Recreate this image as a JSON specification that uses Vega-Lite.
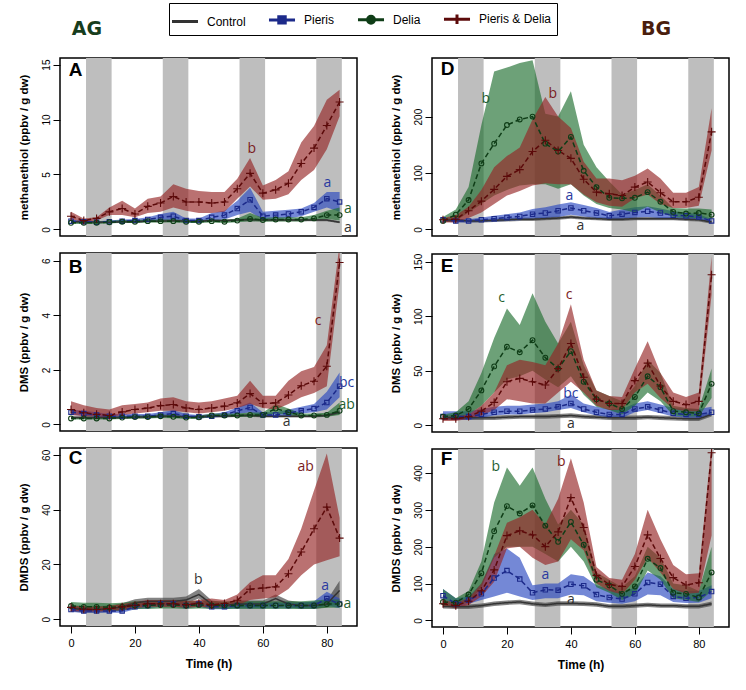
{
"$schema":"https://vega.github.io/schema/vega-lite/v6.json",
"padding":{"left":17,"top":2,"right":12,"bottom":2},
"background":"white",
"spacing":31,
"config":{
"view":{"stroke":"black","strokeWidth":1.5},
"axis":{"grid":false,"domain":false,"tickColor":"black","tickSize":7,"labelColor":"black","labelFont":"Liberation Sans","labelFontSize":10,"titleFont":"Liberation Sans","titleFontSize":11.5,"titleFontWeight":"bold","titleColor":"black"},
"axisY":{"labelAngle":-90,"labelPadding":2,"titlePadding":12},
"axisX":{"labelPadding":4,"labelFontSize":11,"titlePadding":10,"titleFontSize":12}
},
"datasets":{
"night":[{"t":4.7,"t2":12.7},{"t":28.7,"t2":36.7},{"t":52.7,"t2":60.7},{"t":76.7,"t2":84.7}],
"hd":[{"p":"A","t":5.0,"v":18.24,"txt":"AG"},{"p":"D","t":66.6,"v":355.5,"txt":"BG"}],
"pl":[{"p":"A","t":-0.7,"v":14.5},{"p":"B","t":-0.7,"v":5.78},{"p":"C","t":-0.7,"v":58.8},{"p":"D","t":-0.7,"v":285},{"p":"E","t":-0.7,"v":146},{"p":"F","t":-0.7,"v":438}],
"lab":[
{"p":"A","t":56.5,"v":7.3,"s":"X","txt":"b"},{"p":"A","t":80.2,"v":4.2,"s":"P","txt":"a"},{"p":"A","t":86.6,"v":1.9,"s":"D","txt":"a"},{"p":"A","t":86.6,"v":0.1,"s":"C","txt":"a"},
{"p":"B","t":77.3,"v":3.8,"s":"X","txt":"c"},{"p":"B","t":86.2,"v":1.52,"s":"P","txt":"bc"},{"p":"B","t":86.2,"v":0.72,"s":"D","txt":"ab"},{"p":"B","t":67.4,"v":0.1,"s":"C","txt":"a"},
{"p":"C","t":73.4,"v":55.5,"s":"X","txt":"ab"},{"p":"C","t":39.8,"v":14.2,"s":"C","txt":"b"},{"p":"C","t":79.5,"v":12,"s":"P","txt":"a"},{"p":"C","t":86.4,"v":5.5,"s":"D","txt":"a"},
{"p":"D","t":13.4,"v":232,"s":"D","txt":"b"},{"p":"D","t":34.3,"v":241,"s":"X","txt":"b"},{"p":"D","t":39.5,"v":60,"s":"P","txt":"a"},{"p":"D","t":43,"v":6,"s":"C","txt":"a"},
{"p":"E","t":18.3,"v":117,"s":"D","txt":"c"},{"p":"E","t":39.4,"v":119,"s":"X","txt":"c"},{"p":"E","t":40,"v":29,"s":"P","txt":"bc"},{"p":"E","t":40,"v":1,"s":"C","txt":"a"},
{"p":"F","t":16.5,"v":415,"s":"D","txt":"b"},{"p":"F","t":37,"v":429,"s":"X","txt":"b"},{"p":"F","t":32,"v":122,"s":"P","txt":"a"},{"p":"F","t":40,"v":54,"s":"C","txt":"a"}
],
"d":[
{"p":"A","s":"C","t":0,"m":0.7,"l":0.6,"h":0.8},{"p":"A","s":"C","t":4,"m":0.7,"l":0.6,"h":0.8},{"p":"A","s":"C","t":8,"m":0.65,"l":0.55,"h":0.75},{"p":"A","s":"C","t":12,"m":0.65,"l":0.55,"h":0.75},{"p":"A","s":"C","t":16,"m":0.7,"l":0.6,"h":0.8},{"p":"A","s":"C","t":20,"m":0.7,"l":0.6,"h":0.8},{"p":"A","s":"C","t":24,"m":0.75,"l":0.65,"h":0.85},{"p":"A","s":"C","t":28,"m":0.75,"l":0.65,"h":0.85},{"p":"A","s":"C","t":32,"m":0.8,"l":0.7,"h":0.9},{"p":"A","s":"C","t":36,"m":0.75,"l":0.65,"h":0.85},{"p":"A","s":"C","t":40,"m":0.75,"l":0.65,"h":0.85},{"p":"A","s":"C","t":44,"m":0.8,"l":0.7,"h":0.9},{"p":"A","s":"C","t":48,"m":0.8,"l":0.7,"h":0.9},{"p":"A","s":"C","t":52,"m":0.85,"l":0.75,"h":0.95},{"p":"A","s":"C","t":56,"m":0.9,"l":0.75,"h":1.05},{"p":"A","s":"C","t":60,"m":0.85,"l":0.75,"h":0.95},{"p":"A","s":"C","t":64,"m":0.85,"l":0.75,"h":0.95},{"p":"A","s":"C","t":68,"m":0.85,"l":0.75,"h":0.95},{"p":"A","s":"C","t":72,"m":0.85,"l":0.75,"h":0.95},{"p":"A","s":"C","t":76,"m":0.85,"l":0.75,"h":0.95},{"p":"A","s":"C","t":80,"m":0.85,"l":0.75,"h":0.95},{"p":"A","s":"C","t":84,"m":0.65,"l":0.55,"h":0.75},
{"p":"A","s":"P","t":0,"m":0.75,"l":0.6,"h":0.9},{"p":"A","s":"P","t":4,"m":0.7,"l":0.6,"h":0.8},{"p":"A","s":"P","t":8,"m":0.65,"l":0.55,"h":0.75},{"p":"A","s":"P","t":12,"m":0.7,"l":0.6,"h":0.8},{"p":"A","s":"P","t":16,"m":0.75,"l":0.65,"h":0.9},{"p":"A","s":"P","t":20,"m":0.8,"l":0.65,"h":0.95},{"p":"A","s":"P","t":24,"m":0.9,"l":0.7,"h":1.1},{"p":"A","s":"P","t":28,"m":1.1,"l":0.8,"h":1.4},{"p":"A","s":"P","t":32,"m":1.2,"l":0.8,"h":1.6},{"p":"A","s":"P","t":36,"m":0.8,"l":0.6,"h":1.0},{"p":"A","s":"P","t":40,"m":0.8,"l":0.6,"h":1.0},{"p":"A","s":"P","t":44,"m":1.1,"l":0.8,"h":1.5},{"p":"A","s":"P","t":48,"m":1.3,"l":0.9,"h":1.7},{"p":"A","s":"P","t":52,"m":1.9,"l":1.3,"h":2.6},{"p":"A","s":"P","t":56,"m":2.7,"l":1.6,"h":3.8},{"p":"A","s":"P","t":60,"m":1.2,"l":0.9,"h":1.6},{"p":"A","s":"P","t":64,"m":1.3,"l":1.0,"h":1.7},{"p":"A","s":"P","t":68,"m":1.4,"l":1.0,"h":1.8},{"p":"A","s":"P","t":72,"m":1.6,"l":1.2,"h":1.9},{"p":"A","s":"P","t":76,"m":2.0,"l":1.6,"h":2.4},{"p":"A","s":"P","t":80,"m":2.8,"l":2.0,"h":3.4},{"p":"A","s":"P","t":84,"m":2.5,"l":1.6,"h":3.4},
{"p":"A","s":"D","t":0,"m":0.6,"l":0.5,"h":0.72},{"p":"A","s":"D","t":4,"m":0.6,"l":0.5,"h":0.72},{"p":"A","s":"D","t":8,"m":0.6,"l":0.5,"h":0.72},{"p":"A","s":"D","t":12,"m":0.65,"l":0.55,"h":0.78},{"p":"A","s":"D","t":16,"m":0.7,"l":0.58,"h":0.85},{"p":"A","s":"D","t":20,"m":0.7,"l":0.58,"h":0.85},{"p":"A","s":"D","t":24,"m":0.75,"l":0.62,"h":0.9},{"p":"A","s":"D","t":28,"m":0.75,"l":0.62,"h":0.9},{"p":"A","s":"D","t":32,"m":0.75,"l":0.62,"h":0.9},{"p":"A","s":"D","t":36,"m":0.7,"l":0.58,"h":0.85},{"p":"A","s":"D","t":40,"m":0.7,"l":0.58,"h":0.85},{"p":"A","s":"D","t":44,"m":0.75,"l":0.62,"h":0.9},{"p":"A","s":"D","t":48,"m":0.7,"l":0.58,"h":0.85},{"p":"A","s":"D","t":52,"m":0.8,"l":0.65,"h":1.0},{"p":"A","s":"D","t":56,"m":0.95,"l":0.75,"h":1.5},{"p":"A","s":"D","t":60,"m":0.85,"l":0.7,"h":1.05},{"p":"A","s":"D","t":64,"m":0.9,"l":0.72,"h":1.1},{"p":"A","s":"D","t":68,"m":0.9,"l":0.72,"h":1.1},{"p":"A","s":"D","t":72,"m":0.9,"l":0.72,"h":1.1},{"p":"A","s":"D","t":76,"m":1.0,"l":0.8,"h":1.3},{"p":"A","s":"D","t":80,"m":1.3,"l":0.95,"h":1.7},{"p":"A","s":"D","t":84,"m":1.3,"l":0.8,"h":2.0},
{"p":"A","s":"X","t":0,"m":1.2,"l":0.9,"h":1.6},{"p":"A","s":"X","t":4,"m":0.8,"l":0.7,"h":1.0},{"p":"A","s":"X","t":8,"m":1.0,"l":0.8,"h":1.1},{"p":"A","s":"X","t":12,"m":1.6,"l":1.3,"h":2.0},{"p":"A","s":"X","t":16,"m":1.9,"l":1.3,"h":2.6},{"p":"A","s":"X","t":20,"m":1.4,"l":1.1,"h":1.9},{"p":"A","s":"X","t":24,"m":2.1,"l":1.5,"h":2.8},{"p":"A","s":"X","t":28,"m":2.4,"l":1.6,"h":3.0},{"p":"A","s":"X","t":32,"m":3.0,"l":2.0,"h":4.1},{"p":"A","s":"X","t":36,"m":2.5,"l":1.7,"h":3.7},{"p":"A","s":"X","t":40,"m":2.5,"l":1.5,"h":3.5},{"p":"A","s":"X","t":44,"m":2.4,"l":1.5,"h":3.4},{"p":"A","s":"X","t":48,"m":2.5,"l":1.6,"h":3.4},{"p":"A","s":"X","t":52,"m":3.7,"l":2.8,"h":4.6},{"p":"A","s":"X","t":56,"m":5.1,"l":3.9,"h":6.5},{"p":"A","s":"X","t":60,"m":3.3,"l":2.7,"h":4.0},{"p":"A","s":"X","t":64,"m":3.6,"l":2.8,"h":4.5},{"p":"A","s":"X","t":68,"m":4.2,"l":3.2,"h":5.3},{"p":"A","s":"X","t":72,"m":6.0,"l":4.5,"h":7.9},{"p":"A","s":"X","t":76,"m":7.4,"l":5.4,"h":9.4},{"p":"A","s":"X","t":80,"m":9.45,"l":7.3,"h":11.8},{"p":"A","s":"X","t":84,"m":11.6,"l":10.3,"h":12.7},
{"p":"B","s":"C","t":0,"m":0.25,"l":0.2,"h":0.3},{"p":"B","s":"C","t":4,"m":0.25,"l":0.2,"h":0.3},{"p":"B","s":"C","t":8,"m":0.25,"l":0.2,"h":0.3},{"p":"B","s":"C","t":12,"m":0.25,"l":0.2,"h":0.3},{"p":"B","s":"C","t":16,"m":0.25,"l":0.2,"h":0.3},{"p":"B","s":"C","t":20,"m":0.27,"l":0.22,"h":0.32},{"p":"B","s":"C","t":24,"m":0.28,"l":0.23,"h":0.33},{"p":"B","s":"C","t":28,"m":0.3,"l":0.25,"h":0.35},{"p":"B","s":"C","t":32,"m":0.3,"l":0.25,"h":0.35},{"p":"B","s":"C","t":36,"m":0.28,"l":0.23,"h":0.33},{"p":"B","s":"C","t":40,"m":0.28,"l":0.23,"h":0.33},{"p":"B","s":"C","t":44,"m":0.3,"l":0.25,"h":0.35},{"p":"B","s":"C","t":48,"m":0.3,"l":0.25,"h":0.35},{"p":"B","s":"C","t":52,"m":0.32,"l":0.27,"h":0.37},{"p":"B","s":"C","t":56,"m":0.33,"l":0.28,"h":0.38},{"p":"B","s":"C","t":60,"m":0.3,"l":0.25,"h":0.35},{"p":"B","s":"C","t":64,"m":0.3,"l":0.25,"h":0.35},{"p":"B","s":"C","t":68,"m":0.3,"l":0.25,"h":0.35},{"p":"B","s":"C","t":72,"m":0.3,"l":0.25,"h":0.35},{"p":"B","s":"C","t":76,"m":0.3,"l":0.25,"h":0.35},{"p":"B","s":"C","t":80,"m":0.33,"l":0.28,"h":0.38},{"p":"B","s":"C","t":84,"m":0.45,"l":0.38,"h":0.52},
{"p":"B","s":"P","t":0,"m":0.45,"l":0.35,"h":0.55},{"p":"B","s":"P","t":4,"m":0.4,"l":0.32,"h":0.5},{"p":"B","s":"P","t":8,"m":0.35,"l":0.28,"h":0.45},{"p":"B","s":"P","t":12,"m":0.3,"l":0.25,"h":0.38},{"p":"B","s":"P","t":16,"m":0.3,"l":0.25,"h":0.38},{"p":"B","s":"P","t":20,"m":0.3,"l":0.25,"h":0.38},{"p":"B","s":"P","t":24,"m":0.3,"l":0.25,"h":0.38},{"p":"B","s":"P","t":28,"m":0.35,"l":0.28,"h":0.45},{"p":"B","s":"P","t":32,"m":0.4,"l":0.3,"h":0.52},{"p":"B","s":"P","t":36,"m":0.3,"l":0.25,"h":0.38},{"p":"B","s":"P","t":40,"m":0.28,"l":0.22,"h":0.35},{"p":"B","s":"P","t":44,"m":0.3,"l":0.25,"h":0.38},{"p":"B","s":"P","t":48,"m":0.35,"l":0.28,"h":0.45},{"p":"B","s":"P","t":52,"m":0.5,"l":0.38,"h":0.62},{"p":"B","s":"P","t":56,"m":0.62,"l":0.45,"h":0.8},{"p":"B","s":"P","t":60,"m":0.35,"l":0.28,"h":0.45},{"p":"B","s":"P","t":64,"m":0.35,"l":0.28,"h":0.45},{"p":"B","s":"P","t":68,"m":0.42,"l":0.33,"h":0.55},{"p":"B","s":"P","t":72,"m":0.5,"l":0.4,"h":0.65},{"p":"B","s":"P","t":76,"m":0.58,"l":0.45,"h":0.75},{"p":"B","s":"P","t":80,"m":0.8,"l":0.55,"h":1.2},{"p":"B","s":"P","t":84,"m":1.4,"l":1.0,"h":1.9},
{"p":"B","s":"D","t":0,"m":0.22,"l":0.18,"h":0.27},{"p":"B","s":"D","t":4,"m":0.22,"l":0.18,"h":0.27},{"p":"B","s":"D","t":8,"m":0.22,"l":0.18,"h":0.27},{"p":"B","s":"D","t":12,"m":0.22,"l":0.18,"h":0.27},{"p":"B","s":"D","t":16,"m":0.25,"l":0.2,"h":0.3},{"p":"B","s":"D","t":20,"m":0.27,"l":0.22,"h":0.33},{"p":"B","s":"D","t":24,"m":0.27,"l":0.22,"h":0.33},{"p":"B","s":"D","t":28,"m":0.3,"l":0.24,"h":0.37},{"p":"B","s":"D","t":32,"m":0.28,"l":0.23,"h":0.34},{"p":"B","s":"D","t":36,"m":0.25,"l":0.2,"h":0.3},{"p":"B","s":"D","t":40,"m":0.26,"l":0.21,"h":0.32},{"p":"B","s":"D","t":44,"m":0.33,"l":0.27,"h":0.4},{"p":"B","s":"D","t":48,"m":0.33,"l":0.27,"h":0.4},{"p":"B","s":"D","t":52,"m":0.33,"l":0.27,"h":0.4},{"p":"B","s":"D","t":56,"m":0.35,"l":0.28,"h":0.44},{"p":"B","s":"D","t":60,"m":0.35,"l":0.28,"h":0.44},{"p":"B","s":"D","t":64,"m":0.58,"l":0.4,"h":0.75},{"p":"B","s":"D","t":68,"m":0.45,"l":0.35,"h":0.58},{"p":"B","s":"D","t":72,"m":0.33,"l":0.27,"h":0.4},{"p":"B","s":"D","t":76,"m":0.33,"l":0.27,"h":0.4},{"p":"B","s":"D","t":80,"m":0.35,"l":0.28,"h":0.43},{"p":"B","s":"D","t":84,"m":0.5,"l":0.35,"h":0.8},
{"p":"B","s":"X","t":0,"m":0.55,"l":0.35,"h":0.85},{"p":"B","s":"X","t":4,"m":0.43,"l":0.3,"h":0.7},{"p":"B","s":"X","t":8,"m":0.37,"l":0.3,"h":0.6},{"p":"B","s":"X","t":12,"m":0.33,"l":0.25,"h":0.55},{"p":"B","s":"X","t":16,"m":0.46,"l":0.35,"h":0.7},{"p":"B","s":"X","t":20,"m":0.55,"l":0.4,"h":0.75},{"p":"B","s":"X","t":24,"m":0.6,"l":0.45,"h":0.8},{"p":"B","s":"X","t":28,"m":0.69,"l":0.5,"h":0.95},{"p":"B","s":"X","t":32,"m":0.73,"l":0.5,"h":1.0},{"p":"B","s":"X","t":36,"m":0.6,"l":0.45,"h":0.85},{"p":"B","s":"X","t":40,"m":0.55,"l":0.4,"h":0.8},{"p":"B","s":"X","t":44,"m":0.6,"l":0.45,"h":0.85},{"p":"B","s":"X","t":48,"m":0.67,"l":0.5,"h":0.95},{"p":"B","s":"X","t":52,"m":0.79,"l":0.6,"h":1.05},{"p":"B","s":"X","t":56,"m":1.13,"l":0.75,"h":1.6},{"p":"B","s":"X","t":60,"m":0.77,"l":0.6,"h":1.05},{"p":"B","s":"X","t":64,"m":0.79,"l":0.55,"h":1.05},{"p":"B","s":"X","t":68,"m":1.08,"l":0.75,"h":1.6},{"p":"B","s":"X","t":72,"m":1.42,"l":1.0,"h":1.95},{"p":"B","s":"X","t":76,"m":1.58,"l":1.15,"h":2.1},{"p":"B","s":"X","t":80,"m":2.13,"l":1.4,"h":2.9},{"p":"B","s":"X","t":84,"m":5.93,"l":5.2,"h":6.6},
{"p":"C","s":"C","t":0,"m":4,"l":2.8,"h":5.2},{"p":"C","s":"C","t":4,"m":3.5,"l":2.3,"h":4.7},{"p":"C","s":"C","t":8,"m":3.5,"l":2.3,"h":4.7},{"p":"C","s":"C","t":12,"m":3.8,"l":2.6,"h":5},{"p":"C","s":"C","t":16,"m":4.5,"l":3.2,"h":5.8},{"p":"C","s":"C","t":20,"m":6,"l":4.7,"h":7.3},{"p":"C","s":"C","t":24,"m":6.5,"l":5.2,"h":7.8},{"p":"C","s":"C","t":28,"m":6.5,"l":5.2,"h":7.8},{"p":"C","s":"C","t":32,"m":6.5,"l":5.2,"h":7.8},{"p":"C","s":"C","t":36,"m":7,"l":5.7,"h":8.3},{"p":"C","s":"C","t":40,"m":9,"l":7.5,"h":11},{"p":"C","s":"C","t":44,"m":5.5,"l":4.3,"h":6.8},{"p":"C","s":"C","t":48,"m":5,"l":3.8,"h":6.2},{"p":"C","s":"C","t":52,"m":5.5,"l":4.3,"h":6.8},{"p":"C","s":"C","t":56,"m":5.5,"l":4.3,"h":6.8},{"p":"C","s":"C","t":60,"m":5.5,"l":4.3,"h":6.8},{"p":"C","s":"C","t":64,"m":7.5,"l":6,"h":9},{"p":"C","s":"C","t":68,"m":5.5,"l":4.3,"h":6.8},{"p":"C","s":"C","t":72,"m":5,"l":3.8,"h":6.2},{"p":"C","s":"C","t":76,"m":5,"l":3.8,"h":6.2},{"p":"C","s":"C","t":80,"m":5.5,"l":4.3,"h":6.8},{"p":"C","s":"C","t":84,"m":10.5,"l":6,"h":14},
{"p":"C","s":"P","t":0,"m":3.5,"l":2.6,"h":4.5},{"p":"C","s":"P","t":4,"m":3,"l":2.3,"h":3.8},{"p":"C","s":"P","t":8,"m":3,"l":2.3,"h":3.8},{"p":"C","s":"P","t":12,"m":3,"l":2.3,"h":3.8},{"p":"C","s":"P","t":16,"m":3,"l":2.3,"h":3.8},{"p":"C","s":"P","t":20,"m":4.5,"l":3.6,"h":5.5},{"p":"C","s":"P","t":24,"m":5,"l":4,"h":6},{"p":"C","s":"P","t":28,"m":5.5,"l":4.5,"h":6.5},{"p":"C","s":"P","t":32,"m":5.5,"l":4.5,"h":6.5},{"p":"C","s":"P","t":36,"m":5,"l":4,"h":6},{"p":"C","s":"P","t":40,"m":5.5,"l":4.5,"h":6.5},{"p":"C","s":"P","t":44,"m":4.5,"l":3.6,"h":5.5},{"p":"C","s":"P","t":48,"m":4.5,"l":3.6,"h":5.5},{"p":"C","s":"P","t":52,"m":5,"l":4,"h":6},{"p":"C","s":"P","t":56,"m":5,"l":4,"h":6},{"p":"C","s":"P","t":60,"m":5,"l":4,"h":6},{"p":"C","s":"P","t":64,"m":5,"l":4,"h":6},{"p":"C","s":"P","t":68,"m":5,"l":4,"h":6},{"p":"C","s":"P","t":72,"m":5,"l":4,"h":6},{"p":"C","s":"P","t":76,"m":5,"l":4,"h":6.5},{"p":"C","s":"P","t":80,"m":7.5,"l":5,"h":10},{"p":"C","s":"P","t":84,"m":5.5,"l":4,"h":7.5},
{"p":"C","s":"D","t":0,"m":4.8,"l":3.5,"h":6.3},{"p":"C","s":"D","t":4,"m":4.5,"l":3.2,"h":6},{"p":"C","s":"D","t":8,"m":4.5,"l":3.2,"h":6},{"p":"C","s":"D","t":12,"m":4.3,"l":3,"h":5.8},{"p":"C","s":"D","t":16,"m":4.5,"l":3.2,"h":6},{"p":"C","s":"D","t":20,"m":5,"l":3.7,"h":6.5},{"p":"C","s":"D","t":24,"m":5,"l":3.7,"h":6.5},{"p":"C","s":"D","t":28,"m":5.2,"l":3.9,"h":6.7},{"p":"C","s":"D","t":32,"m":5.2,"l":3.9,"h":6.7},{"p":"C","s":"D","t":36,"m":5,"l":3.7,"h":6.5},{"p":"C","s":"D","t":40,"m":5.2,"l":3.9,"h":6.7},{"p":"C","s":"D","t":44,"m":5,"l":3.7,"h":6.5},{"p":"C","s":"D","t":48,"m":5,"l":3.7,"h":6.5},{"p":"C","s":"D","t":52,"m":5,"l":3.7,"h":6.5},{"p":"C","s":"D","t":56,"m":5,"l":3.7,"h":6.5},{"p":"C","s":"D","t":60,"m":5,"l":3.7,"h":6.5},{"p":"C","s":"D","t":64,"m":5,"l":3.7,"h":6.5},{"p":"C","s":"D","t":68,"m":5,"l":3.7,"h":6.5},{"p":"C","s":"D","t":72,"m":5,"l":3.7,"h":6.5},{"p":"C","s":"D","t":76,"m":5,"l":3.7,"h":6.8},{"p":"C","s":"D","t":80,"m":5.5,"l":4.2,"h":7.2},{"p":"C","s":"D","t":84,"m":5.5,"l":4.2,"h":7.2},
{"p":"C","s":"X","t":0,"m":4.3,"l":3,"h":5},{"p":"C","s":"X","t":4,"m":3.6,"l":2.8,"h":4.5},{"p":"C","s":"X","t":8,"m":3.5,"l":2.8,"h":4.5},{"p":"C","s":"X","t":12,"m":3.9,"l":3,"h":4.8},{"p":"C","s":"X","t":16,"m":4.5,"l":3.3,"h":5.5},{"p":"C","s":"X","t":20,"m":5.1,"l":4,"h":6.3},{"p":"C","s":"X","t":24,"m":5.6,"l":4.5,"h":7},{"p":"C","s":"X","t":28,"m":5.6,"l":4.5,"h":7},{"p":"C","s":"X","t":32,"m":5.6,"l":4.5,"h":7},{"p":"C","s":"X","t":36,"m":5.3,"l":4.2,"h":6.5},{"p":"C","s":"X","t":40,"m":5.8,"l":4.5,"h":7},{"p":"C","s":"X","t":44,"m":5.2,"l":4.2,"h":7.5},{"p":"C","s":"X","t":48,"m":5.7,"l":4.5,"h":7},{"p":"C","s":"X","t":52,"m":6.9,"l":5,"h":9},{"p":"C","s":"X","t":56,"m":10.9,"l":7,"h":13.5},{"p":"C","s":"X","t":60,"m":11.4,"l":7.5,"h":16},{"p":"C","s":"X","t":64,"m":11.8,"l":8,"h":16},{"p":"C","s":"X","t":68,"m":16.6,"l":11,"h":22},{"p":"C","s":"X","t":72,"m":24.5,"l":16,"h":33},{"p":"C","s":"X","t":76,"m":33,"l":20,"h":47},{"p":"C","s":"X","t":80,"m":40.9,"l":21.5,"h":60.5},{"p":"C","s":"X","t":84,"m":29.6,"l":23,"h":37},
{"p":"D","s":"C","t":0,"m":17,"l":14,"h":20},{"p":"D","s":"C","t":4,"m":16,"l":13,"h":19},{"p":"D","s":"C","t":8,"m":15,"l":12,"h":18},{"p":"D","s":"C","t":12,"m":15,"l":12,"h":18},{"p":"D","s":"C","t":16,"m":16,"l":13,"h":19},{"p":"D","s":"C","t":20,"m":17,"l":14,"h":20},{"p":"D","s":"C","t":24,"m":18,"l":15,"h":21},{"p":"D","s":"C","t":28,"m":18,"l":15,"h":21},{"p":"D","s":"C","t":32,"m":19,"l":16,"h":22},{"p":"D","s":"C","t":36,"m":20,"l":17,"h":23},{"p":"D","s":"C","t":40,"m":22,"l":19,"h":25},{"p":"D","s":"C","t":44,"m":20,"l":17,"h":23},{"p":"D","s":"C","t":48,"m":19,"l":16,"h":22},{"p":"D","s":"C","t":52,"m":18,"l":15,"h":21},{"p":"D","s":"C","t":56,"m":18,"l":15,"h":21},{"p":"D","s":"C","t":60,"m":19,"l":16,"h":22},{"p":"D","s":"C","t":64,"m":19,"l":16,"h":22},{"p":"D","s":"C","t":68,"m":19,"l":16,"h":22},{"p":"D","s":"C","t":72,"m":19,"l":16,"h":22},{"p":"D","s":"C","t":76,"m":18,"l":15,"h":21},{"p":"D","s":"C","t":80,"m":17,"l":14,"h":20},{"p":"D","s":"C","t":84,"m":13,"l":10,"h":16},
{"p":"D","s":"P","t":0,"m":17,"l":14,"h":20},{"p":"D","s":"P","t":4,"m":15,"l":12,"h":18},{"p":"D","s":"P","t":8,"m":15,"l":12,"h":18},{"p":"D","s":"P","t":12,"m":17,"l":13,"h":21},{"p":"D","s":"P","t":16,"m":19,"l":14,"h":24},{"p":"D","s":"P","t":20,"m":21,"l":15,"h":27},{"p":"D","s":"P","t":24,"m":23,"l":16,"h":30},{"p":"D","s":"P","t":28,"m":27,"l":19,"h":36},{"p":"D","s":"P","t":32,"m":29,"l":20,"h":39},{"p":"D","s":"P","t":36,"m":33,"l":22,"h":44},{"p":"D","s":"P","t":40,"m":38,"l":26,"h":48},{"p":"D","s":"P","t":44,"m":33,"l":23,"h":43},{"p":"D","s":"P","t":48,"m":29,"l":20,"h":38},{"p":"D","s":"P","t":52,"m":24,"l":17,"h":31},{"p":"D","s":"P","t":56,"m":27,"l":19,"h":35},{"p":"D","s":"P","t":60,"m":30,"l":21,"h":39},{"p":"D","s":"P","t":64,"m":32,"l":22,"h":41},{"p":"D","s":"P","t":68,"m":29,"l":20,"h":37},{"p":"D","s":"P","t":72,"m":25,"l":18,"h":32},{"p":"D","s":"P","t":76,"m":24,"l":18,"h":30},{"p":"D","s":"P","t":80,"m":22,"l":17,"h":27},{"p":"D","s":"P","t":84,"m":15,"l":12,"h":18},
{"p":"D","s":"D","t":0,"m":15,"l":12,"h":22},{"p":"D","s":"D","t":4,"m":26,"l":15,"h":35},{"p":"D","s":"D","t":8,"m":52,"l":30,"h":75},{"p":"D","s":"D","t":12,"m":117,"l":45,"h":185},{"p":"D","s":"D","t":16,"m":152,"l":60,"h":280},{"p":"D","s":"D","t":20,"m":185,"l":70,"h":287},{"p":"D","s":"D","t":24,"m":195,"l":78,"h":295},{"p":"D","s":"D","t":28,"m":200,"l":80,"h":300},{"p":"D","s":"D","t":32,"m":152,"l":80,"h":205},{"p":"D","s":"D","t":36,"m":138,"l":72,"h":200},{"p":"D","s":"D","t":40,"m":164,"l":80,"h":245},{"p":"D","s":"D","t":44,"m":104,"l":60,"h":150},{"p":"D","s":"D","t":48,"m":75,"l":45,"h":110},{"p":"D","s":"D","t":52,"m":56,"l":38,"h":85},{"p":"D","s":"D","t":56,"m":55,"l":35,"h":62},{"p":"D","s":"D","t":60,"m":56,"l":30,"h":70},{"p":"D","s":"D","t":64,"m":66,"l":40,"h":80},{"p":"D","s":"D","t":68,"m":49,"l":30,"h":60},{"p":"D","s":"D","t":72,"m":31,"l":22,"h":38},{"p":"D","s":"D","t":76,"m":28,"l":20,"h":37},{"p":"D","s":"D","t":80,"m":29,"l":20,"h":37},{"p":"D","s":"D","t":84,"m":26,"l":18,"h":35},
{"p":"D","s":"X","t":0,"m":17,"l":12,"h":20},{"p":"D","s":"X","t":4,"m":18,"l":12,"h":25},{"p":"D","s":"X","t":8,"m":33,"l":20,"h":40},{"p":"D","s":"X","t":12,"m":50,"l":30,"h":70},{"p":"D","s":"X","t":16,"m":71,"l":45,"h":110},{"p":"D","s":"X","t":20,"m":94,"l":60,"h":130},{"p":"D","s":"X","t":24,"m":106,"l":68,"h":145},{"p":"D","s":"X","t":28,"m":138,"l":78,"h":195},{"p":"D","s":"X","t":32,"m":158,"l":82,"h":235},{"p":"D","s":"X","t":36,"m":140,"l":80,"h":200},{"p":"D","s":"X","t":40,"m":126,"l":80,"h":180},{"p":"D","s":"X","t":44,"m":89,"l":62,"h":120},{"p":"D","s":"X","t":48,"m":66,"l":48,"h":90},{"p":"D","s":"X","t":52,"m":63,"l":42,"h":90},{"p":"D","s":"X","t":56,"m":60,"l":40,"h":87},{"p":"D","s":"X","t":60,"m":75,"l":55,"h":95},{"p":"D","s":"X","t":64,"m":84,"l":62,"h":108},{"p":"D","s":"X","t":68,"m":65,"l":45,"h":90},{"p":"D","s":"X","t":72,"m":49,"l":38,"h":65},{"p":"D","s":"X","t":76,"m":49,"l":38,"h":65},{"p":"D","s":"X","t":80,"m":57,"l":42,"h":75},{"p":"D","s":"X","t":84,"m":173,"l":140,"h":215},
{"p":"E","s":"C","t":0,"m":7,"l":5,"h":9},{"p":"E","s":"C","t":4,"m":7,"l":5,"h":9},{"p":"E","s":"C","t":8,"m":7,"l":5,"h":9},{"p":"E","s":"C","t":12,"m":7,"l":5,"h":9},{"p":"E","s":"C","t":16,"m":7,"l":5,"h":9},{"p":"E","s":"C","t":20,"m":7.5,"l":5.5,"h":9.5},{"p":"E","s":"C","t":24,"m":8,"l":6,"h":10},{"p":"E","s":"C","t":28,"m":8,"l":6,"h":10},{"p":"E","s":"C","t":32,"m":8,"l":6,"h":10},{"p":"E","s":"C","t":36,"m":8.5,"l":6.5,"h":10.5},{"p":"E","s":"C","t":40,"m":9,"l":7,"h":11},{"p":"E","s":"C","t":44,"m":8,"l":6,"h":10},{"p":"E","s":"C","t":48,"m":7.5,"l":5.5,"h":9.5},{"p":"E","s":"C","t":52,"m":7,"l":5,"h":9},{"p":"E","s":"C","t":56,"m":7,"l":5,"h":9},{"p":"E","s":"C","t":60,"m":7,"l":5,"h":9},{"p":"E","s":"C","t":64,"m":7.5,"l":5.5,"h":9.5},{"p":"E","s":"C","t":68,"m":7,"l":5,"h":9},{"p":"E","s":"C","t":72,"m":6.5,"l":4.5,"h":8.5},{"p":"E","s":"C","t":76,"m":6,"l":4,"h":8},{"p":"E","s":"C","t":80,"m":6,"l":4,"h":8},{"p":"E","s":"C","t":84,"m":10,"l":8,"h":12},
{"p":"E","s":"P","t":0,"m":8,"l":5,"h":13},{"p":"E","s":"P","t":4,"m":8,"l":5,"h":13},{"p":"E","s":"P","t":8,"m":8,"l":5,"h":13},{"p":"E","s":"P","t":12,"m":10,"l":7,"h":15},{"p":"E","s":"P","t":16,"m":12,"l":9,"h":17},{"p":"E","s":"P","t":20,"m":13,"l":10,"h":18},{"p":"E","s":"P","t":24,"m":13,"l":10,"h":18},{"p":"E","s":"P","t":28,"m":14,"l":11,"h":19},{"p":"E","s":"P","t":32,"m":15,"l":12,"h":20},{"p":"E","s":"P","t":36,"m":17,"l":14,"h":22},{"p":"E","s":"P","t":40,"m":20,"l":16,"h":28},{"p":"E","s":"P","t":44,"m":15,"l":12,"h":20},{"p":"E","s":"P","t":48,"m":12,"l":9,"h":17},{"p":"E","s":"P","t":52,"m":10,"l":7,"h":15},{"p":"E","s":"P","t":56,"m":10,"l":7,"h":15},{"p":"E","s":"P","t":60,"m":15,"l":12,"h":20},{"p":"E","s":"P","t":64,"m":17,"l":14,"h":22},{"p":"E","s":"P","t":68,"m":14,"l":11,"h":19},{"p":"E","s":"P","t":72,"m":11,"l":8,"h":16},{"p":"E","s":"P","t":76,"m":10,"l":7,"h":15},{"p":"E","s":"P","t":80,"m":10,"l":7,"h":15},{"p":"E","s":"P","t":84,"m":12,"l":9,"h":17},
{"p":"E","s":"D","t":0,"m":8,"l":6,"h":10},{"p":"E","s":"D","t":4,"m":9,"l":6,"h":12},{"p":"E","s":"D","t":8,"m":15,"l":10,"h":22},{"p":"E","s":"D","t":12,"m":32,"l":18,"h":48},{"p":"E","s":"D","t":16,"m":54,"l":30,"h":80},{"p":"E","s":"D","t":20,"m":72,"l":42,"h":107},{"p":"E","s":"D","t":24,"m":67,"l":45,"h":92},{"p":"E","s":"D","t":28,"m":78,"l":50,"h":121},{"p":"E","s":"D","t":32,"m":62,"l":42,"h":95},{"p":"E","s":"D","t":36,"m":52,"l":35,"h":75},{"p":"E","s":"D","t":40,"m":68,"l":45,"h":95},{"p":"E","s":"D","t":44,"m":40,"l":28,"h":55},{"p":"E","s":"D","t":48,"m":24,"l":17,"h":32},{"p":"E","s":"D","t":52,"m":20,"l":14,"h":27},{"p":"E","s":"D","t":56,"m":15,"l":10,"h":22},{"p":"E","s":"D","t":60,"m":26,"l":18,"h":36},{"p":"E","s":"D","t":64,"m":45,"l":30,"h":60},{"p":"E","s":"D","t":68,"m":35,"l":22,"h":48},{"p":"E","s":"D","t":72,"m":13,"l":9,"h":18},{"p":"E","s":"D","t":76,"m":12,"l":8,"h":16},{"p":"E","s":"D","t":80,"m":11,"l":8,"h":15},{"p":"E","s":"D","t":84,"m":38,"l":25,"h":52},
{"p":"E","s":"X","t":0,"m":6,"l":4,"h":8},{"p":"E","s":"X","t":4,"m":6,"l":4,"h":8},{"p":"E","s":"X","t":8,"m":8,"l":6,"h":10},{"p":"E","s":"X","t":12,"m":13,"l":9,"h":18},{"p":"E","s":"X","t":16,"m":21,"l":14,"h":30},{"p":"E","s":"X","t":20,"m":40,"l":24,"h":55},{"p":"E","s":"X","t":24,"m":43,"l":22,"h":60},{"p":"E","s":"X","t":28,"m":40,"l":20,"h":58},{"p":"E","s":"X","t":32,"m":37,"l":20,"h":55},{"p":"E","s":"X","t":36,"m":52,"l":30,"h":75},{"p":"E","s":"X","t":40,"m":75,"l":40,"h":111},{"p":"E","s":"X","t":44,"m":44,"l":30,"h":60},{"p":"E","s":"X","t":48,"m":24,"l":18,"h":32},{"p":"E","s":"X","t":52,"m":20,"l":14,"h":27},{"p":"E","s":"X","t":56,"m":20,"l":14,"h":26},{"p":"E","s":"X","t":60,"m":41,"l":30,"h":52},{"p":"E","s":"X","t":64,"m":57,"l":38,"h":77},{"p":"E","s":"X","t":68,"m":36,"l":25,"h":48},{"p":"E","s":"X","t":72,"m":22,"l":15,"h":30},{"p":"E","s":"X","t":76,"m":19,"l":13,"h":26},{"p":"E","s":"X","t":80,"m":22,"l":13,"h":30},{"p":"E","s":"X","t":84,"m":138,"l":120,"h":155},
{"p":"F","s":"C","t":0,"m":38,"l":32,"h":44},{"p":"F","s":"C","t":4,"m":37,"l":31,"h":43},{"p":"F","s":"C","t":8,"m":37,"l":31,"h":43},{"p":"F","s":"C","t":12,"m":40,"l":34,"h":46},{"p":"F","s":"C","t":16,"m":45,"l":39,"h":51},{"p":"F","s":"C","t":20,"m":48,"l":42,"h":54},{"p":"F","s":"C","t":24,"m":50,"l":44,"h":56},{"p":"F","s":"C","t":28,"m":45,"l":39,"h":51},{"p":"F","s":"C","t":32,"m":42,"l":36,"h":48},{"p":"F","s":"C","t":36,"m":46,"l":40,"h":52},{"p":"F","s":"C","t":40,"m":46,"l":40,"h":52},{"p":"F","s":"C","t":44,"m":45,"l":39,"h":51},{"p":"F","s":"C","t":48,"m":43,"l":37,"h":49},{"p":"F","s":"C","t":52,"m":38,"l":32,"h":44},{"p":"F","s":"C","t":56,"m":38,"l":32,"h":44},{"p":"F","s":"C","t":60,"m":40,"l":34,"h":46},{"p":"F","s":"C","t":64,"m":42,"l":36,"h":48},{"p":"F","s":"C","t":68,"m":40,"l":34,"h":46},{"p":"F","s":"C","t":72,"m":40,"l":34,"h":46},{"p":"F","s":"C","t":76,"m":38,"l":32,"h":44},{"p":"F","s":"C","t":80,"m":38,"l":32,"h":44},{"p":"F","s":"C","t":84,"m":45,"l":39,"h":51},
{"p":"F","s":"P","t":0,"m":67,"l":50,"h":85},{"p":"F","s":"P","t":4,"m":45,"l":35,"h":60},{"p":"F","s":"P","t":8,"m":55,"l":45,"h":65},{"p":"F","s":"P","t":12,"m":72,"l":55,"h":100},{"p":"F","s":"P","t":16,"m":115,"l":65,"h":180},{"p":"F","s":"P","t":20,"m":135,"l":75,"h":195},{"p":"F","s":"P","t":24,"m":112,"l":65,"h":170},{"p":"F","s":"P","t":28,"m":75,"l":55,"h":95},{"p":"F","s":"P","t":32,"m":83,"l":60,"h":100},{"p":"F","s":"P","t":36,"m":82,"l":60,"h":100},{"p":"F","s":"P","t":40,"m":98,"l":70,"h":125},{"p":"F","s":"P","t":44,"m":94,"l":68,"h":120},{"p":"F","s":"P","t":48,"m":70,"l":52,"h":95},{"p":"F","s":"P","t":52,"m":62,"l":48,"h":85},{"p":"F","s":"P","t":56,"m":58,"l":45,"h":75},{"p":"F","s":"P","t":60,"m":72,"l":52,"h":90},{"p":"F","s":"P","t":64,"m":103,"l":70,"h":130},{"p":"F","s":"P","t":68,"m":98,"l":68,"h":120},{"p":"F","s":"P","t":72,"m":65,"l":50,"h":85},{"p":"F","s":"P","t":76,"m":60,"l":47,"h":80},{"p":"F","s":"P","t":80,"m":62,"l":48,"h":80},{"p":"F","s":"P","t":84,"m":78,"l":60,"h":95},
{"p":"F","s":"D","t":0,"m":50,"l":40,"h":85},{"p":"F","s":"D","t":4,"m":48,"l":38,"h":60},{"p":"F","s":"D","t":8,"m":70,"l":50,"h":80},{"p":"F","s":"D","t":12,"m":128,"l":90,"h":160},{"p":"F","s":"D","t":16,"m":242,"l":170,"h":320},{"p":"F","s":"D","t":20,"m":310,"l":200,"h":415},{"p":"F","s":"D","t":24,"m":290,"l":200,"h":365},{"p":"F","s":"D","t":28,"m":312,"l":200,"h":415},{"p":"F","s":"D","t":32,"m":257,"l":180,"h":330},{"p":"F","s":"D","t":36,"m":213,"l":160,"h":260},{"p":"F","s":"D","t":40,"m":267,"l":200,"h":300},{"p":"F","s":"D","t":44,"m":205,"l":160,"h":260},{"p":"F","s":"D","t":48,"m":110,"l":90,"h":130},{"p":"F","s":"D","t":52,"m":95,"l":75,"h":110},{"p":"F","s":"D","t":56,"m":72,"l":55,"h":90},{"p":"F","s":"D","t":60,"m":92,"l":70,"h":120},{"p":"F","s":"D","t":64,"m":167,"l":135,"h":200},{"p":"F","s":"D","t":68,"m":142,"l":110,"h":170},{"p":"F","s":"D","t":72,"m":75,"l":60,"h":100},{"p":"F","s":"D","t":76,"m":72,"l":55,"h":95},{"p":"F","s":"D","t":80,"m":62,"l":50,"h":80},{"p":"F","s":"D","t":84,"m":130,"l":80,"h":200},
{"p":"F","s":"X","t":0,"m":45,"l":38,"h":55},{"p":"F","s":"X","t":4,"m":40,"l":33,"h":48},{"p":"F","s":"X","t":8,"m":52,"l":42,"h":60},{"p":"F","s":"X","t":12,"m":80,"l":65,"h":100},{"p":"F","s":"X","t":16,"m":137,"l":105,"h":175},{"p":"F","s":"X","t":20,"m":230,"l":195,"h":265},{"p":"F","s":"X","t":24,"m":243,"l":200,"h":280},{"p":"F","s":"X","t":28,"m":232,"l":170,"h":300},{"p":"F","s":"X","t":32,"m":200,"l":150,"h":260},{"p":"F","s":"X","t":36,"m":240,"l":160,"h":330},{"p":"F","s":"X","t":40,"m":333,"l":220,"h":440},{"p":"F","s":"X","t":44,"m":252,"l":190,"h":320},{"p":"F","s":"X","t":48,"m":122,"l":100,"h":145},{"p":"F","s":"X","t":52,"m":97,"l":80,"h":115},{"p":"F","s":"X","t":56,"m":92,"l":70,"h":110},{"p":"F","s":"X","t":60,"m":146,"l":110,"h":180},{"p":"F","s":"X","t":64,"m":232,"l":170,"h":300},{"p":"F","s":"X","t":68,"m":168,"l":130,"h":220},{"p":"F","s":"X","t":72,"m":116,"l":85,"h":150},{"p":"F","s":"X","t":76,"m":96,"l":72,"h":125},{"p":"F","s":"X","t":80,"m":102,"l":75,"h":128},{"p":"F","s":"X","t":84,"m":455,"l":230,"h":480}
]
},
"hconcat":[
{"spacing":15,
"vconcat":[
{"width":297,"height":178,
"encoding":{"x":{"field":"t","type":"quantitative","scale":{"domain":[-3.44,89.44],"nice":false,"zero":false},"axis":null}},
"layer":[
{"data":{"name":"night"},"mark":{"type":"rect","color":"#bebebe"},"encoding":{"x2":{"field":"t2"}}},
{"data":{"name":"d"},"transform":[{"filter":"datum.p=='A'"}],"mark":{"type":"area","fillOpacity":0.65,"clip":true},"encoding":{"y":{"field":"l","type":"quantitative","scale":{"domain":[-0.6,15.6],"nice":false,"zero":false},"axis":{"values":[0,5,10,15],"title":"methanethiol  (ppbv / g dw)"}},"y2":{"field":"h"},"fill":{"field":"s","type":"nominal","scale":{"domain":["C","D","P","X"],"range":["#404040","#1e6e30","#2a48c0","#952525"]},"legend":null}}},
{"data":{"name":"d"},"transform":[{"filter":"datum.p=='A'"}],"mark":{"type":"line","strokeWidth":1.5,"clip":true},"encoding":{"y":{"field":"m","type":"quantitative","scale":{"domain":[-0.6,15.6],"nice":false,"zero":false}},"stroke":{"field":"s","type":"nominal","scale":{"domain":["C","P","D","X"],"range":["#333333","#1c2a8a","#0f3d17","#5c0a0a"]},
"legend":{"orient":"none","legendX":109,"legendY":-55,"direction":"horizontal","title":null,"strokeColor":"black","fillColor":"white","padding":5,"columnPadding":16,"labelOffset":11,"labelFont":"Liberation Sans","labelFontSize":12,"labelColor":"black","symbolSize":361,"symbolStrokeWidth":3,
"labelExpr":"datum.label=='C'?'Control':datum.label=='P'?'Pieris':datum.label=='D'?'Delia':'Pieris & Delia'",
"encode":{"symbols":{"update":{"shape":{"signal":"datum.value=='C'?'M-1.37,0H1.37':datum.value=='P'?'M-1.37,0H1.37M-0.34,-0.34H0.34V0.34H-0.34Z':datum.value=='D'?'M-1.37,0H1.37M0.36,0A0.36,0.36 0 1,1 -0.36,0A0.36,0.36 0 1,1 0.36,0Z':'M-1.37,0H1.37M0,-0.5V0.5'"},"fill":{"scale":"stroke","field":"value"},"stroke":{"scale":"stroke","field":"value"},"strokeWidth":{"value":3},"opacity":{"value":1}}}}}},
"strokeDash":{"field":"s","type":"nominal","scale":{"domain":["C","X","D","P"],"range":[[1,0],[5,3],[5,3],[5,3]]},"legend":null}}},
{"data":{"name":"d"},"transform":[{"filter":"datum.p=='A' && datum.s!='C'"}],"mark":{"type":"point","filled":false,"size":64,"strokeWidth":1.1,"opacity":1,"clip":true},"encoding":{"y":{"field":"m","type":"quantitative","scale":{"domain":[-0.6,15.6],"nice":false,"zero":false}},"stroke":{"field":"s","type":"nominal","scale":{"domain":["C","P","D","X"],"range":["#333333","#1c2a8a","#0f3d17","#5c0a0a"]}},"shape":{"field":"s","type":"nominal","scale":{"domain":["P","D","X"],"range":["M-0.55,-0.55H0.55V0.55H-0.55Z","M0.6,0A0.6,0.6 0 1,1 -0.6,0A0.6,0.6 0 1,1 0.6,0Z","M-1,0H1M0,-1V1"]},"legend":null}}},
{"data":{"name":"lab"},"transform":[{"filter":"datum.p=='A'"}],"mark":{"type":"text","font":"Open Sans","fontSize":14,"baseline":"middle","align":"center"},"encoding":{"y":{"field":"v","type":"quantitative","scale":{"domain":[-0.6,15.6],"nice":false,"zero":false}},"text":{"field":"txt"},"color":{"field":"s","type":"nominal","scale":{"domain":["X","P","D","C"],"range":["#7a1c1c","#2a3aa0","#1f6030","#333333"]},"legend":null}}},
{"data":{"name":"pl"},"transform":[{"filter":"datum.p=='A'"}],"mark":{"type":"text","font":"Liberation Sans","fontSize":19,"fontWeight":"bold","align":"left","baseline":"middle","color":"black"},"encoding":{"y":{"field":"v","type":"quantitative","scale":{"domain":[-0.6,15.6],"nice":false,"zero":false}},"text":{"field":"p"}}},
{"data":{"name":"hd"},"transform":[{"filter":"datum.p=='A'"}],"mark":{"type":"text","font":"DejaVu Sans","fontSize":19,"fontWeight":"bold","align":"center","baseline":"middle","color":"#173d1d"},"encoding":{"y":{"field":"v","type":"quantitative","scale":{"domain":[-0.6,15.6],"nice":false,"zero":false}},"text":{"field":"txt"}}}
]},
{"width":297,"height":178,
"encoding":{"x":{"field":"t","type":"quantitative","scale":{"domain":[-3.44,89.44],"nice":false,"zero":false},"axis":null}},
"layer":[
{"data":{"name":"night"},"mark":{"type":"rect","color":"#bebebe"},"encoding":{"x2":{"field":"t2"}}},
{"data":{"name":"d"},"transform":[{"filter":"datum.p=='B'"}],"mark":{"type":"area","fillOpacity":0.65,"clip":true},"encoding":{"y":{"field":"l","type":"quantitative","scale":{"domain":[-0.24,6.28],"nice":false,"zero":false},"axis":{"values":[0,1,2,3,4,5,6],"title":"DMS  (ppbv / g dw)"}},"y2":{"field":"h"},"fill":{"field":"s","type":"nominal","scale":{"domain":["C","D","P","X"],"range":["#404040","#1e6e30","#2a48c0","#952525"]},"legend":null}}},
{"data":{"name":"d"},"transform":[{"filter":"datum.p=='B'"}],"mark":{"type":"line","strokeWidth":1.5,"clip":true},"encoding":{"y":{"field":"m","type":"quantitative","scale":{"domain":[-0.24,6.28],"nice":false,"zero":false}},"stroke":{"field":"s","type":"nominal","scale":{"domain":["C","P","D","X"],"range":["#333333","#1c2a8a","#0f3d17","#5c0a0a"]}},"strokeDash":{"field":"s","type":"nominal","scale":{"domain":["C","X","D","P"],"range":[[1,0],[5,3],[5,3],[5,3]]},"legend":null}}},
{"data":{"name":"d"},"transform":[{"filter":"datum.p=='B' && datum.s!='C'"}],"mark":{"type":"point","filled":false,"size":64,"strokeWidth":1.1,"opacity":1,"clip":true},"encoding":{"y":{"field":"m","type":"quantitative","scale":{"domain":[-0.24,6.28],"nice":false,"zero":false}},"stroke":{"field":"s","type":"nominal","scale":{"domain":["C","P","D","X"],"range":["#333333","#1c2a8a","#0f3d17","#5c0a0a"]}},"shape":{"field":"s","type":"nominal","scale":{"domain":["P","D","X"],"range":["M-0.55,-0.55H0.55V0.55H-0.55Z","M0.6,0A0.6,0.6 0 1,1 -0.6,0A0.6,0.6 0 1,1 0.6,0Z","M-1,0H1M0,-1V1"]},"legend":null}}},
{"data":{"name":"lab"},"transform":[{"filter":"datum.p=='B'"}],"mark":{"type":"text","font":"Open Sans","fontSize":14,"baseline":"middle","align":"center"},"encoding":{"y":{"field":"v","type":"quantitative","scale":{"domain":[-0.24,6.28],"nice":false,"zero":false}},"text":{"field":"txt"},"color":{"field":"s","type":"nominal","scale":{"domain":["X","P","D","C"],"range":["#7a1c1c","#2a3aa0","#1f6030","#333333"]},"legend":null}}},
{"data":{"name":"pl"},"transform":[{"filter":"datum.p=='B'"}],"mark":{"type":"text","font":"Liberation Sans","fontSize":19,"fontWeight":"bold","align":"left","baseline":"middle","color":"black"},"encoding":{"y":{"field":"v","type":"quantitative","scale":{"domain":[-0.24,6.28],"nice":false,"zero":false}},"text":{"field":"p"}}}
]},
{"width":297,"height":178,
"encoding":{"x":{"field":"t","type":"quantitative","scale":{"domain":[-3.44,89.44],"nice":false,"zero":false},"axis":{"values":[0,20,40,60,80],"title":"Time (h)"}}},
"layer":[
{"data":{"name":"night"},"mark":{"type":"rect","color":"#bebebe"},"encoding":{"x2":{"field":"t2"}}},
{"data":{"name":"d"},"transform":[{"filter":"datum.p=='C'"}],"mark":{"type":"area","fillOpacity":0.65,"clip":true},"encoding":{"y":{"field":"l","type":"quantitative","scale":{"domain":[-2.5,62.5],"nice":false,"zero":false},"axis":{"values":[0,10,20,30,40,50,60],"title":"DMDS  (ppbv / g dw)"}},"y2":{"field":"h"},"fill":{"field":"s","type":"nominal","scale":{"domain":["C","D","P","X"],"range":["#404040","#1e6e30","#2a48c0","#952525"]},"legend":null}}},
{"data":{"name":"d"},"transform":[{"filter":"datum.p=='C'"}],"mark":{"type":"line","strokeWidth":1.5,"clip":true},"encoding":{"y":{"field":"m","type":"quantitative","scale":{"domain":[-2.5,62.5],"nice":false,"zero":false}},"stroke":{"field":"s","type":"nominal","scale":{"domain":["C","P","D","X"],"range":["#333333","#1c2a8a","#0f3d17","#5c0a0a"]}},"strokeDash":{"field":"s","type":"nominal","scale":{"domain":["C","X","D","P"],"range":[[1,0],[5,3],[5,3],[5,3]]},"legend":null}}},
{"data":{"name":"d"},"transform":[{"filter":"datum.p=='C' && datum.s!='C'"}],"mark":{"type":"point","filled":false,"size":64,"strokeWidth":1.1,"opacity":1,"clip":true},"encoding":{"y":{"field":"m","type":"quantitative","scale":{"domain":[-2.5,62.5],"nice":false,"zero":false}},"stroke":{"field":"s","type":"nominal","scale":{"domain":["C","P","D","X"],"range":["#333333","#1c2a8a","#0f3d17","#5c0a0a"]}},"shape":{"field":"s","type":"nominal","scale":{"domain":["P","D","X"],"range":["M-0.55,-0.55H0.55V0.55H-0.55Z","M0.6,0A0.6,0.6 0 1,1 -0.6,0A0.6,0.6 0 1,1 0.6,0Z","M-1,0H1M0,-1V1"]},"legend":null}}},
{"data":{"name":"lab"},"transform":[{"filter":"datum.p=='C'"}],"mark":{"type":"text","font":"Open Sans","fontSize":14,"baseline":"middle","align":"center"},"encoding":{"y":{"field":"v","type":"quantitative","scale":{"domain":[-2.5,62.5],"nice":false,"zero":false}},"text":{"field":"txt"},"color":{"field":"s","type":"nominal","scale":{"domain":["X","P","D","C"],"range":["#7a1c1c","#2a3aa0","#1f6030","#333333"]},"legend":null}}},
{"data":{"name":"pl"},"transform":[{"filter":"datum.p=='C'"}],"mark":{"type":"text","font":"Liberation Sans","fontSize":19,"fontWeight":"bold","align":"left","baseline":"middle","color":"black"},"encoding":{"y":{"field":"v","type":"quantitative","scale":{"domain":[-2.5,62.5],"nice":false,"zero":false}},"text":{"field":"p"}}}
]}
]},
{"spacing":15,
"vconcat":[
{"width":297,"height":178,
"encoding":{"x":{"field":"t","type":"quantitative","scale":{"domain":[-3.44,89.44],"nice":false,"zero":false},"axis":null}},
"layer":[
{"data":{"name":"night"},"mark":{"type":"rect","color":"#bebebe"},"encoding":{"x2":{"field":"t2"}}},
{"data":{"name":"d"},"transform":[{"filter":"datum.p=='D'"}],"mark":{"type":"area","fillOpacity":0.65,"clip":true},"encoding":{"y":{"field":"l","type":"quantitative","scale":{"domain":[-11.8,304],"nice":false,"zero":false},"axis":{"values":[0,50,100,150,200,250],"title":"methanethiol (ppbv / g dw)"}},"y2":{"field":"h"},"fill":{"field":"s","type":"nominal","scale":{"domain":["C","D","P","X"],"range":["#404040","#1e6e30","#2a48c0","#952525"]},"legend":null}}},
{"data":{"name":"d"},"transform":[{"filter":"datum.p=='D'"}],"mark":{"type":"line","strokeWidth":1.5,"clip":true},"encoding":{"y":{"field":"m","type":"quantitative","scale":{"domain":[-11.8,304],"nice":false,"zero":false}},"stroke":{"field":"s","type":"nominal","scale":{"domain":["C","P","D","X"],"range":["#333333","#1c2a8a","#0f3d17","#5c0a0a"]}},"strokeDash":{"field":"s","type":"nominal","scale":{"domain":["C","X","D","P"],"range":[[1,0],[5,3],[5,3],[5,3]]},"legend":null}}},
{"data":{"name":"d"},"transform":[{"filter":"datum.p=='D' && datum.s!='C'"}],"mark":{"type":"point","filled":false,"size":64,"strokeWidth":1.1,"opacity":1,"clip":true},"encoding":{"y":{"field":"m","type":"quantitative","scale":{"domain":[-11.8,304],"nice":false,"zero":false}},"stroke":{"field":"s","type":"nominal","scale":{"domain":["C","P","D","X"],"range":["#333333","#1c2a8a","#0f3d17","#5c0a0a"]}},"shape":{"field":"s","type":"nominal","scale":{"domain":["P","D","X"],"range":["M-0.55,-0.55H0.55V0.55H-0.55Z","M0.6,0A0.6,0.6 0 1,1 -0.6,0A0.6,0.6 0 1,1 0.6,0Z","M-1,0H1M0,-1V1"]},"legend":null}}},
{"data":{"name":"lab"},"transform":[{"filter":"datum.p=='D'"}],"mark":{"type":"text","font":"Open Sans","fontSize":14,"baseline":"middle","align":"center"},"encoding":{"y":{"field":"v","type":"quantitative","scale":{"domain":[-11.8,304],"nice":false,"zero":false}},"text":{"field":"txt"},"color":{"field":"s","type":"nominal","scale":{"domain":["X","P","D","C"],"range":["#7a1c1c","#2a3aa0","#1f6030","#333333"]},"legend":null}}},
{"data":{"name":"pl"},"transform":[{"filter":"datum.p=='D'"}],"mark":{"type":"text","font":"Liberation Sans","fontSize":19,"fontWeight":"bold","align":"left","baseline":"middle","color":"black"},"encoding":{"y":{"field":"v","type":"quantitative","scale":{"domain":[-11.8,304],"nice":false,"zero":false}},"text":{"field":"p"}}},
{"data":{"name":"hd"},"transform":[{"filter":"datum.p=='D'"}],"mark":{"type":"text","font":"DejaVu Sans","fontSize":19,"fontWeight":"bold","align":"center","baseline":"middle","color":"#4a1e0e"},"encoding":{"y":{"field":"v","type":"quantitative","scale":{"domain":[-11.8,304],"nice":false,"zero":false}},"text":{"field":"txt"}}}
]},
{"width":297,"height":178,
"encoding":{"x":{"field":"t","type":"quantitative","scale":{"domain":[-3.44,89.44],"nice":false,"zero":false},"axis":null}},
"layer":[
{"data":{"name":"night"},"mark":{"type":"rect","color":"#bebebe"},"encoding":{"x2":{"field":"t2"}}},
{"data":{"name":"d"},"transform":[{"filter":"datum.p=='E'"}],"mark":{"type":"area","fillOpacity":0.65,"clip":true},"encoding":{"y":{"field":"l","type":"quantitative","scale":{"domain":[-6.1,157],"nice":false,"zero":false},"axis":{"values":[0,50,100,150],"title":"DMS  (ppbv / g dw)"}},"y2":{"field":"h"},"fill":{"field":"s","type":"nominal","scale":{"domain":["C","D","P","X"],"range":["#404040","#1e6e30","#2a48c0","#952525"]},"legend":null}}},
{"data":{"name":"d"},"transform":[{"filter":"datum.p=='E'"}],"mark":{"type":"line","strokeWidth":1.5,"clip":true},"encoding":{"y":{"field":"m","type":"quantitative","scale":{"domain":[-6.1,157],"nice":false,"zero":false}},"stroke":{"field":"s","type":"nominal","scale":{"domain":["C","P","D","X"],"range":["#333333","#1c2a8a","#0f3d17","#5c0a0a"]}},"strokeDash":{"field":"s","type":"nominal","scale":{"domain":["C","X","D","P"],"range":[[1,0],[5,3],[5,3],[5,3]]},"legend":null}}},
{"data":{"name":"d"},"transform":[{"filter":"datum.p=='E' && datum.s!='C'"}],"mark":{"type":"point","filled":false,"size":64,"strokeWidth":1.1,"opacity":1,"clip":true},"encoding":{"y":{"field":"m","type":"quantitative","scale":{"domain":[-6.1,157],"nice":false,"zero":false}},"stroke":{"field":"s","type":"nominal","scale":{"domain":["C","P","D","X"],"range":["#333333","#1c2a8a","#0f3d17","#5c0a0a"]}},"shape":{"field":"s","type":"nominal","scale":{"domain":["P","D","X"],"range":["M-0.55,-0.55H0.55V0.55H-0.55Z","M0.6,0A0.6,0.6 0 1,1 -0.6,0A0.6,0.6 0 1,1 0.6,0Z","M-1,0H1M0,-1V1"]},"legend":null}}},
{"data":{"name":"lab"},"transform":[{"filter":"datum.p=='E'"}],"mark":{"type":"text","font":"Open Sans","fontSize":14,"baseline":"middle","align":"center"},"encoding":{"y":{"field":"v","type":"quantitative","scale":{"domain":[-6.1,157],"nice":false,"zero":false}},"text":{"field":"txt"},"color":{"field":"s","type":"nominal","scale":{"domain":["X","P","D","C"],"range":["#7a1c1c","#2a3aa0","#1f6030","#333333"]},"legend":null}}},
{"data":{"name":"pl"},"transform":[{"filter":"datum.p=='E'"}],"mark":{"type":"text","font":"Liberation Sans","fontSize":19,"fontWeight":"bold","align":"left","baseline":"middle","color":"black"},"encoding":{"y":{"field":"v","type":"quantitative","scale":{"domain":[-6.1,157],"nice":false,"zero":false}},"text":{"field":"p"}}}
]},
{"width":297,"height":178,
"encoding":{"x":{"field":"t","type":"quantitative","scale":{"domain":[-3.44,89.44],"nice":false,"zero":false},"axis":{"values":[0,20,40,60,80],"title":"Time (h)"}}},
"layer":[
{"data":{"name":"night"},"mark":{"type":"rect","color":"#bebebe"},"encoding":{"x2":{"field":"t2"}}},
{"data":{"name":"d"},"transform":[{"filter":"datum.p=='F'"}],"mark":{"type":"area","fillOpacity":0.65,"clip":true},"encoding":{"y":{"field":"l","type":"quantitative","scale":{"domain":[-18,465],"nice":false,"zero":false},"axis":{"values":[0,100,200,300,400],"title":"DMDS  (ppbv / g dw)"}},"y2":{"field":"h"},"fill":{"field":"s","type":"nominal","scale":{"domain":["C","D","P","X"],"range":["#404040","#1e6e30","#2a48c0","#952525"]},"legend":null}}},
{"data":{"name":"d"},"transform":[{"filter":"datum.p=='F'"}],"mark":{"type":"line","strokeWidth":1.5,"clip":true},"encoding":{"y":{"field":"m","type":"quantitative","scale":{"domain":[-18,465],"nice":false,"zero":false}},"stroke":{"field":"s","type":"nominal","scale":{"domain":["C","P","D","X"],"range":["#333333","#1c2a8a","#0f3d17","#5c0a0a"]}},"strokeDash":{"field":"s","type":"nominal","scale":{"domain":["C","X","D","P"],"range":[[1,0],[5,3],[5,3],[5,3]]},"legend":null}}},
{"data":{"name":"d"},"transform":[{"filter":"datum.p=='F' && datum.s!='C'"}],"mark":{"type":"point","filled":false,"size":64,"strokeWidth":1.1,"opacity":1,"clip":true},"encoding":{"y":{"field":"m","type":"quantitative","scale":{"domain":[-18,465],"nice":false,"zero":false}},"stroke":{"field":"s","type":"nominal","scale":{"domain":["C","P","D","X"],"range":["#333333","#1c2a8a","#0f3d17","#5c0a0a"]}},"shape":{"field":"s","type":"nominal","scale":{"domain":["P","D","X"],"range":["M-0.55,-0.55H0.55V0.55H-0.55Z","M0.6,0A0.6,0.6 0 1,1 -0.6,0A0.6,0.6 0 1,1 0.6,0Z","M-1,0H1M0,-1V1"]},"legend":null}}},
{"data":{"name":"lab"},"transform":[{"filter":"datum.p=='F'"}],"mark":{"type":"text","font":"Open Sans","fontSize":14,"baseline":"middle","align":"center"},"encoding":{"y":{"field":"v","type":"quantitative","scale":{"domain":[-18,465],"nice":false,"zero":false}},"text":{"field":"txt"},"color":{"field":"s","type":"nominal","scale":{"domain":["X","P","D","C"],"range":["#7a1c1c","#2a3aa0","#1f6030","#333333"]},"legend":null}}},
{"data":{"name":"pl"},"transform":[{"filter":"datum.p=='F'"}],"mark":{"type":"text","font":"Liberation Sans","fontSize":19,"fontWeight":"bold","align":"left","baseline":"middle","color":"black"},"encoding":{"y":{"field":"v","type":"quantitative","scale":{"domain":[-18,465],"nice":false,"zero":false}},"text":{"field":"p"}}}
]}
]}
]
}
